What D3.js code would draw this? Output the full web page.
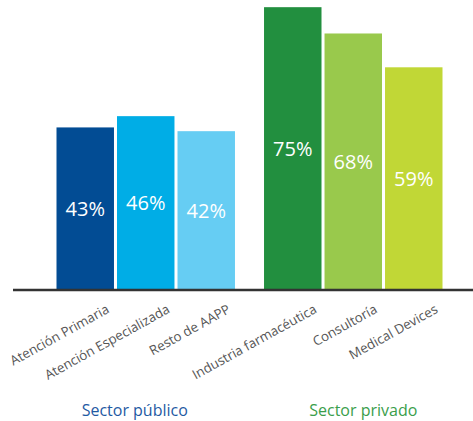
<!DOCTYPE html>
<html>
<head>
<meta charset="utf-8">
<script src="https://cdn.jsdelivr.net/npm/d3@7/dist/d3.min.js"></script>
<style>
  html, body { margin: 0; padding: 0; background: #fff; }
  svg { display: block; }
  text { font-family: "Open Sans", "Noto Sans", sans-serif; }
</style>
</head>
<body>
<svg id="chart" width="473" height="421"></svg>
<script>
const groups = ["Sector público", "Sector privado"];
const categories = ["Atención Primaria", "Atención Especializada", "Resto de AAPP",
                    "Industria farmacéutica", "Consultoría", "Medical Devices"];
const categoryGroup = [0, 0, 0, 1, 1, 1];
const values = [43, 46, 42, 75, 68, 59];
const barColors = ["#024c94", "#00ade6", "#66cdf3", "#228f3f", "#99c94c", "#c1d736"];
const groupColors = ["#1f5aa3", "#3a9e4b"];

const svg = d3.select("#chart");

const baseY = 289;
const y = d3.scaleLinear().domain([0, 75]).range([baseY, baseY - 3.7576 * 75]);

const xGroup = d3.scaleBand().domain(groups).range([56.5, 442.5]).paddingInner(0.14).paddingOuter(0);
const xInner = d3.scaleBand().domain([0, 1, 2]).range([0, xGroup.bandwidth()]).paddingInner(0.05).paddingOuter(0);

const data = categories.map((c, i) => ({
  cat: c, group: groups[categoryGroup[i]], idx: i % 3, value: values[i], color: barColors[i]
}));
const xPos = d => xGroup(d.group) + xInner(d.idx);

svg.selectAll("rect.bar").data(data).enter().append("rect")
  .attr("class", "bar")
  .attr("x", xPos)
  .attr("y", d => y(d.value))
  .attr("width", xInner.bandwidth())
  .attr("height", d => y(0) - y(d.value))
  .attr("fill", d => d.color);

svg.selectAll("text.val").data(data).enter().append("text")
  .attr("class", "val")
  .attr("x", d => xPos(d) + xInner.bandwidth() / 2)
  .attr("y", d => (y(d.value) + y(0)) / 2)
  .attr("text-anchor", "middle")
  .attr("dominant-baseline", "central")
  .attr("fill", "#fff")
  .attr("font-size", 20)
  .text(d => d.value + "%");

// baseline axis
svg.append("line")
  .attr("x1", 13).attr("x2", 473)
  .attr("y1", y(0) + 1).attr("y2", y(0) + 1)
  .attr("stroke", "#333").attr("stroke-width", 2.5);

// category labels
svg.selectAll("text.cat").data(data).enter().append("text")
  .attr("class", "cat")
  .attr("text-anchor", "end")
  .attr("font-size", 13.3)
  .attr("fill", "#555")
  .attr("transform", d => `translate(${xPos(d) + xInner.bandwidth() / 2 + 25},${312}) rotate(-29)`)
  .text(d => d.cat);

// group labels
svg.selectAll("text.grp").data(groups).enter().append("text")
  .attr("class", "grp")
  .attr("x", (g, i) => xGroup(g) + xGroup.bandwidth() / 2 + (i === 0 ? -11 : 10))
  .attr("y", 416)
  .attr("text-anchor", "middle")
  .attr("font-size", 16)
  .attr("fill", (g, i) => groupColors[i])
  .text(g => g);
</script>
</body>
</html>
